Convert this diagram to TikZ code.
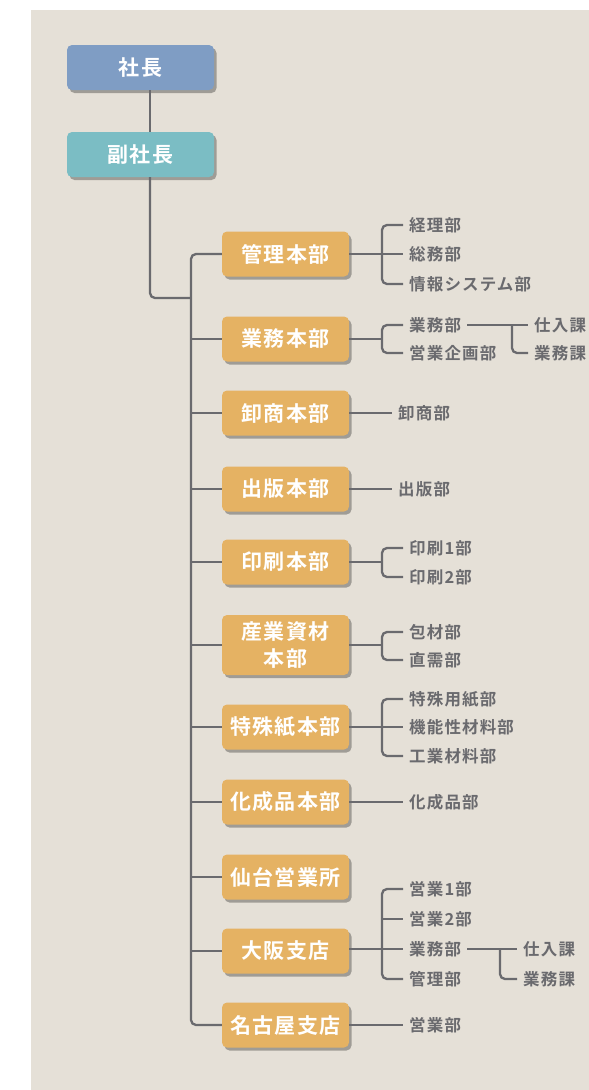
\documentclass[tikz,border=0pt]{standalone}
\usepackage{fontspec}
\newfontfamily\jpbox{Noto Sans CJK JP}[UprightFont={* Bold}, LetterSpace=6]
\newfontfamily\jplab{Noto Sans CJK JP}[UprightFont={* Bold}, LetterSpace=7]
\usetikzlibrary{shadows}
\definecolor{bg}{RGB}{229,224,215}
\definecolor{presc}{RGB}{127,157,196}
\definecolor{vpc}{RGB}{123,189,196}
\definecolor{divc}{RGB}{229,178,99}
\definecolor{linec}{RGB}{106,106,110}
\definecolor{labc}{RGB}{106,106,110}
\tikzset{
 box/.style={rounded corners=5pt, fill=divc, text=white, minimum width=127pt, minimum height=45pt, inner sep=0pt, align=center, font=\jpbox\fontsize{21}{27}\selectfont, drop shadow={shadow xshift=2.5pt, shadow yshift=-3pt, fill=black, opacity=0.3}},
 topbox/.style={box, minimum width=147pt},
 lab/.style={anchor=west, inner xsep=6pt, inner ysep=2pt, text=labc, font=\jplab\fontsize{16.5}{20}\selectfont},
 conn/.style={draw=linec, line width=2.3pt},
 brk/.style={conn, rounded corners=5pt},
}
\begin{document}
\begin{tikzpicture}[x=1pt,y=-1pt]
\useasboundingbox (0,0) rectangle (589,1090);
\fill[bg] (31,10) rectangle (589,1090);
% coordinates
\coordinate (vpline) at (150,0);
\coordinate (trunkx) at (191,0);
\coordinate (vpj) at (191,298);
\coordinate (bx) at (382,0);
% top nodes
\node[topbox, fill=presc] (pres) at (140.5,67.5) {社長};
\node[topbox, fill=vpc] (vp) at (140.5,154.5) {副社長};
% divisions
\node[box] (d1) at (285.5,254) {管理本部};
\node[box] (d2) at (285.5,339) {業務本部};
\node[box] (d3) at (285.5,413) {卸商本部};
\node[box] (d4) at (285.5,489) {出版本部};
\node[box] (d5) at (285.5,562) {印刷本部};
\node[box, minimum height=60pt] (d6) at (285.5,645) {産業資材\\本部};
\node[box] (d7) at (285.5,727) {特殊紙本部};
\node[box] (d8) at (285.5,802) {化成品本部};
\node[box] (d9) at (285.5,877) {仙台営業所};
\node[box] (d10) at (285.5,951) {大阪支店};
\node[box] (d11) at (285.5,1025) {名古屋支店};
% labels
\node[lab] (l1a) at (403,225) {経理部};
\node[lab] (l1b) at (403,254) {総務部};
\node[lab] (l1c) at (403,284) {情報システム部};
\node[lab] (l2a) at (403,325) {業務部};
\node[lab] (l2b) at (403,353) {営業企画部};
\node[lab] (l2c) at (528,325) {仕入課};
\node[lab] (l2d) at (528,353) {業務課};
\node[lab] (l3a) at (392,413) {卸商部};
\node[lab] (l4a) at (392,489) {出版部};
\node[lab] (l5a) at (403,548) {印刷1部};
\node[lab] (l5b) at (403,577) {印刷2部};
\node[lab] (l6a) at (403,632) {包材部};
\node[lab] (l6b) at (403,660) {直需部};
\node[lab] (l7a) at (403,699) {特殊用紙部};
\node[lab] (l7b) at (403,727) {機能性材料部};
\node[lab] (l7c) at (403,756) {工業材料部};
\node[lab] (l8a) at (403,802) {化成品部};
\node[lab] (l10a) at (403,889) {営業1部};
\node[lab] (l10b) at (403,919) {営業2部};
\node[lab] (l10c) at (403,949) {業務部};
\node[lab] (l10d) at (403,979) {管理部};
\node[lab] (l10e) at (517,949) {仕入課};
\node[lab] (l10f) at (517,979) {業務課};
\node[lab] (l11a) at (403,1025) {営業部};
% sub-bracket joints
\coordinate (j2) at (512,325);
\coordinate (j10) at (500,949);
% top connectors
\draw[conn] (pres.south -| vpline) -- (vp.north -| vpline);
\draw[brk] (vp.south -| vpline) |- (vpj);
\draw[brk] (d1.west) -| (d11.west -| trunkx) -- (d11.west);
\foreach \d in {d2,d3,d4,d5,d6,d7,d8,d9,d10}
  \draw[conn] (\d.west -| trunkx) -- (\d.west);
% d1
\draw[conn] (d1.east) -- (l1b.west);
\draw[brk] (l1a.west) -| (l1b.west -| bx) |- (l1c.west);
% d2
\draw[conn] (d2.east) -- (d2.east -| bx);
\draw[brk] (l2a.west) -| (d2.east -| bx) |- (l2b.west);
\draw[conn] (l2a.east) -- (l2c.west);
\draw[brk] (j2) |- (l2d.west);
% d3, d4
\draw[conn] (d3.east) -- (l3a.west);
\draw[conn] (d4.east) -- (l4a.west);
% d5
\draw[conn] (d5.east) -- (d5.east -| bx);
\draw[brk] (l5a.west) -| (d5.east -| bx) |- (l5b.west);
% d6
\draw[conn] (d6.east) -- (d6.east -| bx);
\draw[brk] (l6a.west) -| (d6.east -| bx) |- (l6b.west);
% d7
\draw[conn] (d7.east) -- (l7b.west);
\draw[brk] (l7a.west) -| (l7b.west -| bx) |- (l7c.west);
% d8
\draw[conn] (d8.east |- l8a.west) -- (l8a.west);
% d10
\draw[conn] (d10.east |- l10c.west) -- (l10c.west);
\draw[brk] (l10a.west) -| (l10c.west -| bx) |- (l10d.west);
\draw[conn] (l10b.west -| bx) -- (l10b.west);
\draw[conn] (l10c.east) -- (l10e.west);
\draw[brk] (j10) |- (l10f.west);
% d11
\draw[conn] (d11.east) -- (l11a.west);
\end{tikzpicture}
\end{document}
